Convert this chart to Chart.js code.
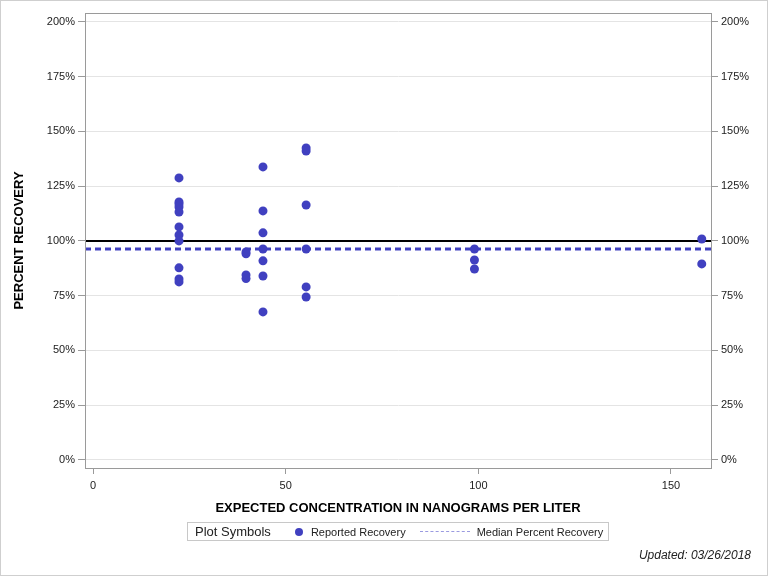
<!DOCTYPE html>
<html>
<head>
<meta charset="utf-8">
<script src="https://cdn.jsdelivr.net/npm/chart.js@4/dist/chart.umd.min.js"></script>
<style>
  body { margin: 0; background: #fff; }
  #wrap { position: relative; width: 768px; height: 576px; font-family: "Liberation Sans", Arial, sans-serif; }
  #frame { position: absolute; left: 0; top: 0; width: 766px; height: 574px; border: 1px solid #cfcfcf; pointer-events: none; }
  #legend { position: absolute; left: 187px; top: 522px; width: 420px; height: 17px; border: 1px solid #c8c8c8;
            font-size: 11px; color: #222; display: flex; align-items: center; white-space: nowrap; }
  #legend .ttl { font-size: 13px; margin-left: 7px; margin-right: 24px; }
  #legend .dot { display: inline-block; width: 8px; height: 8px; border-radius: 50%; background: #4040C0; margin-right: 8px; }
  #legend .dash { display: inline-block; width: 50px; border-top: 1px dashed #9a9ae0; margin: 0 7px 0 14px; }
  #updated { position: absolute; right: 17px; top: 548px; font-size: 12px; font-style: italic; color: #222; }
</style>
</head>
<body>
<div id="wrap">
  <canvas id="recoveryChart" width="768" height="576"></canvas>
  <div id="legend">
    <span class="ttl">Plot Symbols</span>
    <span class="dot"></span><span>Reported Recovery</span>
    <span class="dash"></span><span>Median Percent Recovery</span>
  </div>
  <div id="updated">Updated: 03/26/2018</div>
  <div id="frame"></div>
</div>
<script>
// Expected concentration (ng/L) and percent recovery
const concentration = [
  22.3, 22.3, 22.3, 22.3, 22.3, 22.3, 22.3, 22.3, 22.3, 22.3, 22.3,
  39.7, 39.7, 39.7, 39.7,
  44.1, 44.1, 44.1, 44.1, 44.1, 44.1, 44.1,
  55.3, 55.3, 55.3, 55.3, 55.3, 55.3,
  99, 99, 99,
  158, 158
];
const recovery = [
  128.8, 117.8, 116.9, 115.5, 113.2, 106.4, 102.7, 100.0, 87.7, 82.6, 81.3,
  95.0, 94.1, 84.5, 82.8,
  133.8, 113.7, 103.7, 96.3, 90.9, 84.0, 67.6,
  142.5, 141.1, 116.4, 96.3, 79.0, 74.4,
  96.3, 91.3, 87.2,
  100.9, 89.5
];
const medianRecovery = 96.3;
const referenceRecovery = 100;

const xRange = [-2.1, 160.4];
const yRange = [-3.7, 204.1];
const xTicks = [0, 50, 100, 150];
const yTicks = [0, 25, 50, 75, 100, 125, 150, 175, 200];

const blue = '#4040C0';
const axisGray = '#9a9a9a';
const tickFont = { family: "'Liberation Sans', Arial, sans-serif", size: 11 };
const titleFont = { family: "'Liberation Sans', Arial, sans-serif", size: 13, weight: 'bold' };

// plot frame on all four sides
const framePlugin = {
  id: 'frame',
  afterDatasetsDraw(chart) {
    const { ctx, chartArea: a } = chart;
    ctx.save();
    ctx.strokeStyle = axisGray;
    ctx.lineWidth = 1;
    ctx.strokeRect(a.left + 0.5, a.top + 0.5, a.right - a.left, a.bottom - a.top);
    ctx.restore();
  }
};

const yAxis = (pos, width) => ({
  type: 'linear',
  position: pos,
  min: yRange[0],
  max: yRange[1],
  afterBuildTicks: (s) => { s.ticks = yTicks.map(v => ({ value: v })); },
  afterFit: (s) => { s.width = width; },
  grid: {
    drawOnChartArea: pos === 'left',
    color: '#e4e4e4',
    tickColor: axisGray,
    tickLength: 7
  },
  border: { color: axisGray },
  ticks: {
    font: tickFont,
    color: '#222',
    padding: 3,
    callback: (v) => v + '%'
  },
  title: {
    display: pos === 'left',
    text: 'PERCENT RECOVERY',
    font: titleFont,
    color: '#000',
    padding: { top: 12, bottom: 0 }
  }
});

new Chart(document.getElementById('recoveryChart'), {
  type: 'scatter',
  data: {
    datasets: [
      {
        label: 'Reported Recovery',
        data: concentration.map((c, i) => ({ x: c, y: recovery[i] })),
        backgroundColor: blue,
        borderColor: blue,
        pointRadius: 4.5,
        pointBorderWidth: 0
      },
      {
        label: 'Median Percent Recovery',
        type: 'line',
        data: xRange.map(x => ({ x: x, y: medianRecovery })),
        borderColor: blue,
        borderWidth: 3,
        borderDash: [6, 4],
        pointRadius: 0,
        fill: false
      },
      {
        label: '100%',
        type: 'line',
        data: xRange.map(x => ({ x: x, y: referenceRecovery })),
        borderColor: '#000',
        borderWidth: 2,
        pointRadius: 0,
        fill: false
      }
    ]
  },
  options: {
    responsive: false,
    animation: false,
    layout: { padding: { left: 0, right: 0, top: 13, bottom: 0 } },
    plugins: {
      legend: { display: false },
      tooltip: { enabled: false }
    },
    scales: {
      x: {
        type: 'linear',
        min: xRange[0],
        max: xRange[1],
        afterBuildTicks: (s) => { s.ticks = xTicks.map(v => ({ value: v })); },
        afterFit: (s) => { s.height = 108; },
        grid: { drawOnChartArea: false, tickColor: axisGray, tickLength: 6 },
        border: { color: axisGray },
        ticks: { font: tickFont, color: '#222', padding: 5, maxRotation: 0 },
        title: {
          display: true,
          text: 'EXPECTED CONCENTRATION IN NANOGRAMS PER LITER',
          font: titleFont,
          color: '#000',
          padding: { top: 0, bottom: 60 }
        }
      },
      y: yAxis('left', 85),
      y2: yAxis('right', 57)
    }
  },
  plugins: [framePlugin]
});
</script>
</body>
</html>
